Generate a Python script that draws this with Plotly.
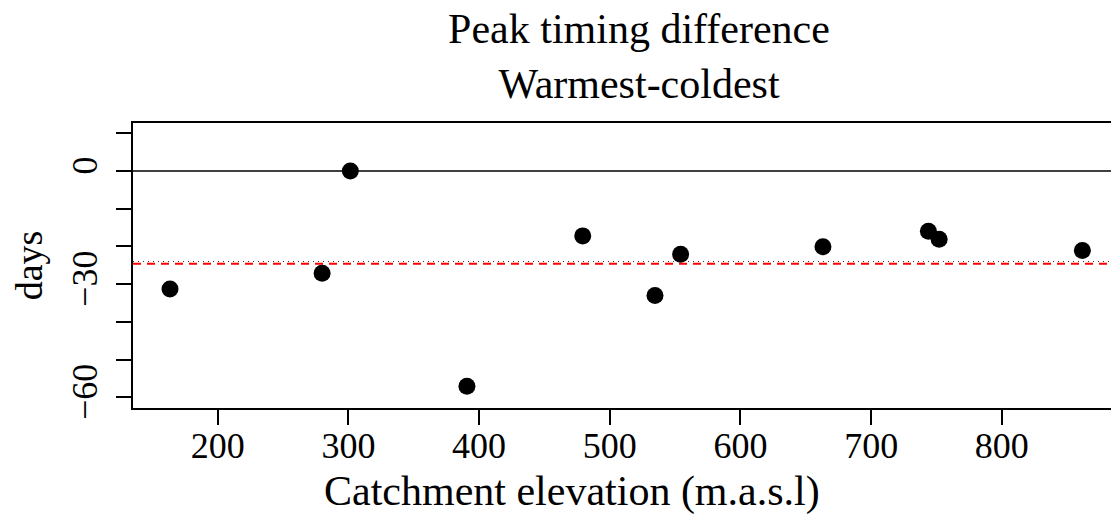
import plotly.graph_objects as go

# Data
elevation = [163.5, 279.9, 301.5, 390.7, 479.3, 534.6, 554.2, 663.1, 743.8, 752.0, 861.6]
peak_diff = [-31.3, -27.1, 0.0, -57.1, -17.2, -33.0, -22.1, -20.1, -16.0, -18.1, -21.1]
mean_line = -24.0      # thin black dotted reference line
red_line = -24.6       # red dashed reference line
zero_line = 0

x_ticks = [200, 300, 400, 500, 600, 700, 800]
y_ticks = [10, 0, -10, -20, -30, -40, -50, -60]
y_tick_text = ["", "0", "", "", "\u221230", "", "", "\u221260"]

title_text = "Peak timing difference<br>Warmest-coldest"
x_title = "Catchment elevation (m.a.s.l)"
y_title = "days"

FONT = "Liberation Serif"

fig = go.Figure()
fig.add_trace(go.Scatter(
    x=elevation, y=peak_diff, mode="markers",
    marker=dict(color="black", size=17, line=dict(width=0)),
    showlegend=False, hoverinfo="x+y",
))

fig.add_hline(y=zero_line, line=dict(color="black", width=1.6), layer="below")
fig.add_hline(y=mean_line, line=dict(color="#333333", width=1, dash="1px,4px"), layer="below")
fig.add_hline(y=red_line, line=dict(color="#ff0000", width=2, dash="8px,6px"), layer="below")

fig.add_annotation(
    text=x_title, xref="paper", yref="paper",
    x=(572 - 133) / 978, y=-(491 - 408) / 285, xanchor="center", yanchor="middle",
    showarrow=False, font=dict(family=FONT, size=42, color="black"),
)

fig.update_layout(
    width=1111, height=524,
    margin=dict(l=133, r=0, t=123, b=116, pad=0),
    paper_bgcolor="white", plot_bgcolor="white",
    font=dict(family=FONT, color="black"),
    title=dict(text=title_text, x=639 / 1111, xanchor="center", xref="container",
               y=1 - 43 / 524, yanchor="top", yref="container",
               font=dict(family=FONT, size=42, color="black")),
)

fig.update_xaxes(
    range=[135.2, 883.5], tickvals=x_ticks, ticktext=[str(v) for v in x_ticks],
    showgrid=False, zeroline=False,
    showline=True, linecolor="black", linewidth=1.6, mirror=True,
    ticks="outside", ticklen=15, tickwidth=1.6, tickcolor="black",
    tickfont=dict(family=FONT, size=36, color="black"),
    ticklabelstandoff=-10,
)
fig.update_yaxes(
    range=[-62.84, 12.73], tickvals=y_ticks, ticktext=y_tick_text,
    showgrid=False, zeroline=False,
    showline=True, linecolor="black", linewidth=1.6, mirror=False,
    ticks="outside", ticklen=15, tickwidth=1.6, tickcolor="black",
    tickangle=-90, ticklabelstandoff=5,
    tickfont=dict(family=FONT, size=36, color="black"),
    title=dict(text=y_title, font=dict(family=FONT, size=38, color="black"), standoff=10),
)

fig.write_html("out.html")
